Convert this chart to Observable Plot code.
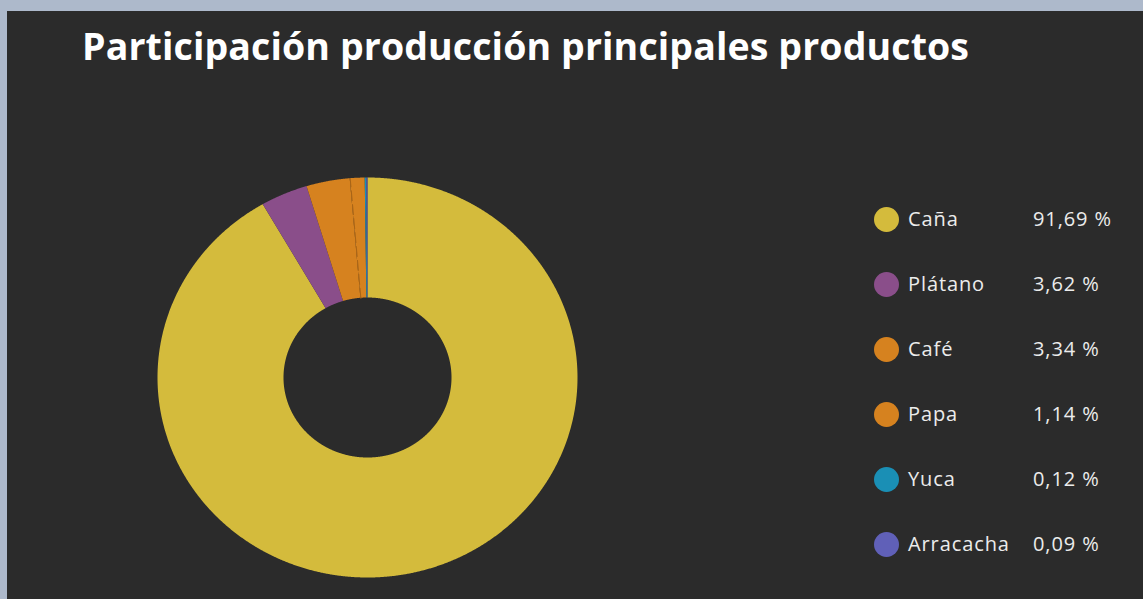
<!DOCTYPE html>
<html><head><meta charset="utf-8">
<script src="https://cdn.jsdelivr.net/npm/d3@7"></script>
<script src="https://cdn.jsdelivr.net/npm/@observablehq/plot@0.6"></script>
<style>
html,body{margin:0;padding:0;background:#adb9cb;width:1143px;height:599px;overflow:hidden;font-family:"Open Sans",Lato,sans-serif;}
#panel{position:absolute;left:7px;top:11px;width:1136px;height:588px;background:#2b2b2b;}
#title{position:absolute;left:75px;top:13px;color:#fff;font-weight:700;font-size:37.5px;white-space:nowrap;line-height:44px;}
#chart{position:absolute;left:0;top:90px;}
#legend{position:absolute;left:0;top:0;}
.row{position:absolute;height:26px;display:flex;align-items:center;color:#ececec;font-size:20px;letter-spacing:0.9px;}
.dot{position:absolute;width:25px;height:25px;border-radius:50%;}
.lab,.val{position:absolute;white-space:nowrap;line-height:26px;}
</style>
</head><body>
<div id="panel">
  <div id="title">Participación producción principales productos</div>
  <div id="chart"></div>
  <div id="legend"></div>
</div>
<script>
const categories = ["Caña", "Plátano", "Café", "Papa", "Yuca", "Arracacha"];
const shares = [91.69, 3.62, 3.34, 1.14, 0.12, 0.09];
const colors = ["#d4bb3c", "#8a4e8a", "#d6821f", "#d6821f", "#1a8fb5", "#6060b8"];

const innerR = 0.4;
const outerR = 1;

const data = categories.map((name, i) => ({name, share: shares[i]}));
const arcs = d3.pie().sort(null).value(d => d.share)(data);

// sample each sector's boundary for the area mark (geometry only)
const sectorPts = [];
for (const a of arcs) {
  const n = Math.max(2, Math.ceil((a.endAngle - a.startAngle) / 0.004) + 1);
  for (let k = 0; k < n; k++) {
    const t = a.startAngle + (a.endAngle - a.startAngle) * k / (n - 1);
    sectorPts.push({
      name: a.data.name,
      x1: outerR * Math.sin(t), y1: outerR * Math.cos(t),
      x2: innerR * Math.sin(t), y2: innerR * Math.cos(t)
    });
  }
}
// dashed separator between Café and Papa
const sepAngle = arcs[categories.indexOf("Papa")].startAngle;
const sep = [innerR, outerR].map(r => ({x: r * Math.sin(sepAngle), y: r * Math.cos(sepAngle)}));

const W = 1136, H = 498, cx = 360.5, cy = 276.5, RX = 210, RY = 200;
const plot = Plot.plot({
  width: W, height: H,
  marginLeft: cx - RX, marginRight: W - (cx + RX),
  marginTop: cy - RY, marginBottom: H - (cy + RY),
  x: {domain: [-1, 1], axis: null},
  y: {domain: [-1, 1], axis: null},
  color: {type: "ordinal", domain: categories, range: colors},
  style: {background: "transparent"},
  marks: [
    Plot.area(sectorPts, {x1: "x1", y1: "y1", x2: "x2", y2: "y2", z: "name", fill: "name", curve: "linear"}),
    Plot.line(sep, {x: "x", y: "y", stroke: "#a86416", strokeWidth: 1, strokeDasharray: "10,4"})
  ]
});
document.getElementById("chart").appendChild(plot);

// fit title width to the reference span
const title = document.getElementById("title");
const tw = title.getBoundingClientRect().width;
const nChars = title.textContent.length;
title.style.letterSpacing = ((887 - tw) / (nChars - 1)) + "px";

const legend = document.getElementById("legend");
categories.forEach((name, i) => {
  const y = 208 + 65 * i;
  const d = document.createElement("div");
  d.className = "dot"; d.style.background = colors[i];
  d.style.left = (879 - 12.5) + "px"; d.style.top = (y - 12.5) + "px";
  legend.appendChild(d);
  const l = document.createElement("div");
  l.className = "lab row"; l.textContent = name;
  l.style.left = "901px"; l.style.top = (y - 13) + "px";
  legend.appendChild(l);
  const v = document.createElement("div");
  v.className = "val row"; v.textContent = shares[i].toFixed(2).replace(".", ",") + " %";
  v.style.left = "1026px"; v.style.top = (y - 13) + "px";
  legend.appendChild(v);
});
</script>
</body></html>
